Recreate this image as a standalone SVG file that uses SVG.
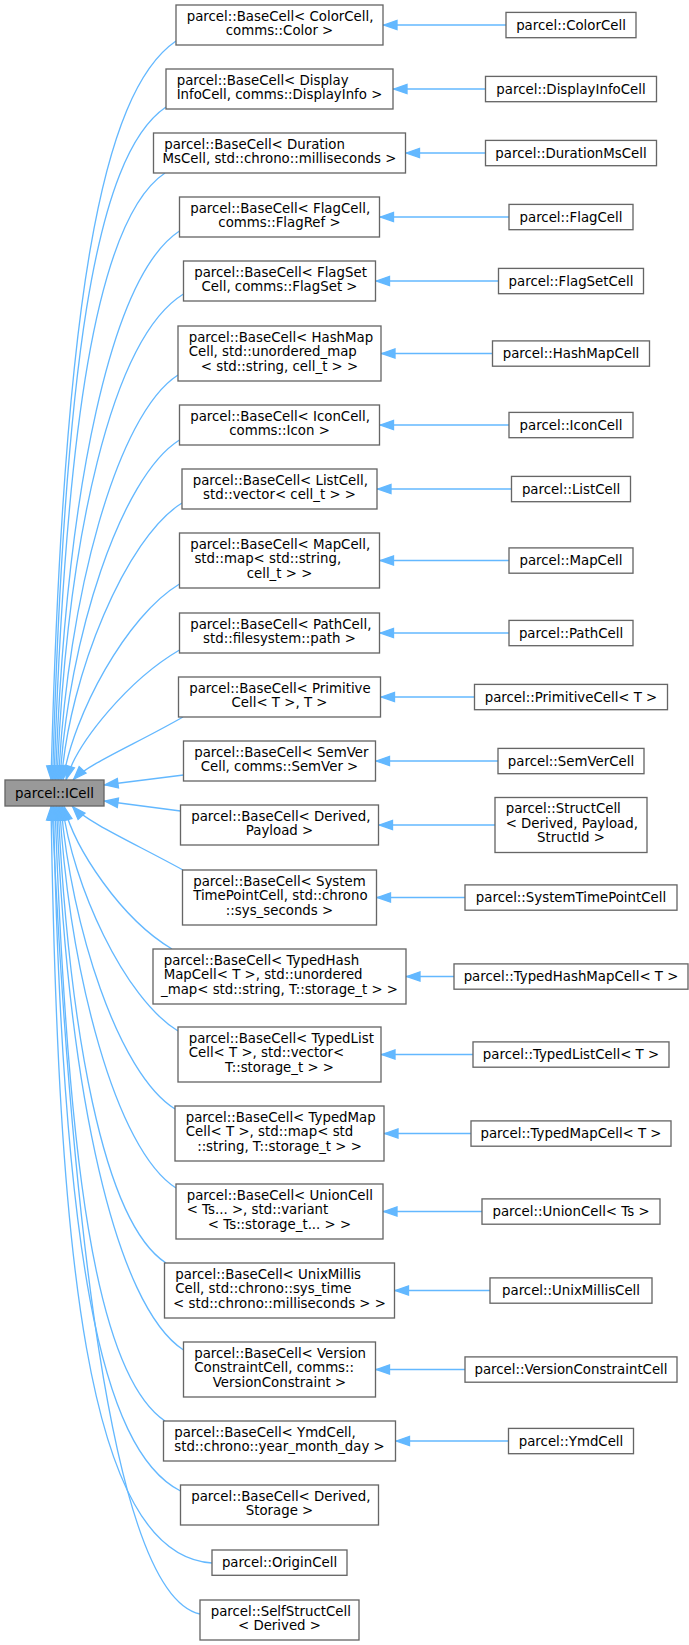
<svg xmlns="http://www.w3.org/2000/svg" width="689" height="1645" viewBox="0 0 689 1645">
<style>
rect.b{fill:#fff;stroke:#666;stroke-width:1.33}
rect.g{fill:#999;stroke:#666;stroke-width:1.33}
text{font-family:"DejaVu Sans","Liberation Sans",sans-serif;font-size:13.33px;fill:#000}
text.c{text-anchor:middle}
path.e{fill:none;stroke:#63b8ff;stroke-width:1.33;marker-start:url(#ah)}
</style>
<defs>
<marker id="ah" markerUnits="userSpaceOnUse" markerWidth="18" markerHeight="14" viewBox="-16 -7 18 14" refX="0" refY="0" orient="auto-start-reverse" overflow="visible">
<path d="M-1,0 L-14,-4.67 L-14,4.67 Z" fill="#63b8ff" stroke="#63b8ff" stroke-width="1.33"/>
</marker>
</defs>
<rect width="689" height="1645" fill="#fff"/>
<g id="connectors">
<path class="e" d="M51,780 C63.4,300 101.4,91.9 176,41"/>
<path class="e" d="M52.5,780 C64.2,369.2 94.1,155.6 166,107"/>
<path class="e" d="M54,780 C65.1,433 95.7,219.2 165,173"/>
<path class="e" d="M55.5,780 C66,484.9 112,275.2 179.5,231"/>
<path class="e" d="M57,780 C66.9,536.8 112,338 183.5,294"/>
<path class="e" d="M58.5,780 C67.6,596.6 116.8,414.2 178,375"/>
<path class="e" d="M60,780 C68.4,639 120.4,476.9 179.5,440"/>
<path class="e" d="M61.5,780 C69.3,675.4 125.9,537.7 182,503"/>
<path class="e" d="M63,780 C73,715.3 126.2,615.9 179.5,584"/>
<path class="e" d="M66,780 C76.9,742.2 128.8,679.6 179.5,650"/>
<path class="e" d="M73,780 C88,764 135.5,744.2 183,717"/>
<path class="e" d="M104,785 L183.5,775"/>
<path class="e" d="M104,801 L180.5,811"/>
<path class="e" d="M72,806 C87,822.2 135.4,843.8 183,870"/>
<path class="e" d="M64,806 C74.6,848.7 121.3,919 172,949"/>
<path class="e" d="M62.5,806 C72.4,884.1 124,998.1 178,1031"/>
<path class="e" d="M61,806 C71,925.1 117.9,1073.4 175,1109"/>
<path class="e" d="M59.5,806 C69.9,974 115.7,1149.6 176,1188"/>
<path class="e" d="M58,806 C68.9,1027 102.7,1222 166,1263"/>
<path class="e" d="M56.5,806 C68,1097 116.2,1306 183.5,1350"/>
<path class="e" d="M55,806 C67.1,1160.4 95.4,1374.5 165,1421"/>
<path class="e" d="M53.5,806 C62,1250 100,1450 180.5,1491"/>
<path class="e" d="M51,806 C58,1250 85,1555 212,1563"/>
<path class="e" d="M52,806 C70,1200 110,1595 200,1614"/>
<path class="e" d="M383,25 L506,25"/>
<path class="e" d="M393,89 L485.5,89"/>
<path class="e" d="M405.5,153 L485.5,153"/>
<path class="e" d="M379.5,217 L509,217"/>
<path class="e" d="M375.5,281 L498.5,281"/>
<path class="e" d="M381,353.5 L492.5,353.5"/>
<path class="e" d="M379.5,425 L509,425"/>
<path class="e" d="M377,489 L511.5,489"/>
<path class="e" d="M379.5,560.5 L509,560.5"/>
<path class="e" d="M379.5,633 L509,633"/>
<path class="e" d="M380.5,697 L474.5,697"/>
<path class="e" d="M375.5,761 L498,761"/>
<path class="e" d="M378.5,825 L495,825"/>
<path class="e" d="M376.5,897.5 L465,897.5"/>
<path class="e" d="M406,976.5 L454,976.5"/>
<path class="e" d="M381,1054.5 L473,1054.5"/>
<path class="e" d="M384,1133.5 L471,1133.5"/>
<path class="e" d="M383,1211.5 L482,1211.5"/>
<path class="e" d="M394.5,1290.5 L490,1290.5"/>
<path class="e" d="M375.5,1369.5 L465,1369.5"/>
<path class="e" d="M395.5,1441 L508.5,1441"/>
</g>
<g id="icell"><rect class="g" x="5" y="780" width="99" height="26"/><text class="c" x="54.5" y="797.6">parcel::ICell</text></g>
<g id="base_color"><rect class="b" x="176" y="5" width="207" height="40"/><text x="186.7" y="20.5">parcel::BaseCell&lt; ColorCell,</text><text class="c" x="279.5" y="35.2">comms::Color &gt;</text></g>
<g id="base_displayinfo"><rect class="b" x="166" y="69" width="227" height="40"/><text x="176.7" y="84.5">parcel::BaseCell&lt; Display</text><text class="c" x="279.5" y="99.2">InfoCell, comms::DisplayInfo &gt;</text></g>
<g id="base_durationms"><rect class="b" x="153.5" y="133" width="252" height="40"/><text x="164.2" y="148.5">parcel::BaseCell&lt; Duration</text><text class="c" x="279.5" y="163.2">MsCell, std::chrono::milliseconds &gt;</text></g>
<g id="base_flag"><rect class="b" x="179.5" y="197" width="200" height="40"/><text x="190.2" y="212.5">parcel::BaseCell&lt; FlagCell,</text><text class="c" x="279.5" y="227.2">comms::FlagRef &gt;</text></g>
<g id="base_flagset"><rect class="b" x="183.5" y="261" width="192" height="40"/><text x="194.2" y="276.5">parcel::BaseCell&lt; FlagSet</text><text class="c" x="279.5" y="291.2">Cell, comms::FlagSet &gt;</text></g>
<g id="base_hashmap"><rect class="b" x="178" y="326" width="203" height="55"/><text x="188.7" y="341.5">parcel::BaseCell&lt; HashMap</text><text x="188.7" y="356.2">Cell, std::unordered_map</text><text class="c" x="279.5" y="370.9">&lt; std::string, cell_t &gt; &gt;</text></g>
<g id="base_icon"><rect class="b" x="179.5" y="405" width="200" height="40"/><text x="190.2" y="420.5">parcel::BaseCell&lt; IconCell,</text><text class="c" x="279.5" y="435.2">comms::Icon &gt;</text></g>
<g id="base_list"><rect class="b" x="182" y="469" width="195" height="40"/><text x="192.7" y="484.5">parcel::BaseCell&lt; ListCell,</text><text class="c" x="279.5" y="499.2">std::vector&lt; cell_t &gt; &gt;</text></g>
<g id="base_map"><rect class="b" x="179.5" y="533" width="200" height="55"/><text x="190.2" y="548.5">parcel::BaseCell&lt; MapCell,</text><text x="194.4" y="563.2">std::map&lt; std::string,</text><text class="c" x="279.5" y="577.9">cell_t &gt; &gt;</text></g>
<g id="base_path"><rect class="b" x="179.5" y="613" width="200" height="40"/><text x="190.2" y="628.5">parcel::BaseCell&lt; PathCell,</text><text class="c" x="279.5" y="643.2">std::filesystem::path &gt;</text></g>
<g id="base_primitive"><rect class="b" x="178.5" y="677" width="202" height="40"/><text x="189.2" y="692.5">parcel::BaseCell&lt; Primitive</text><text class="c" x="279.5" y="707.2">Cell&lt; T &gt;, T &gt;</text></g>
<g id="base_semver"><rect class="b" x="183.5" y="741" width="192" height="40"/><text x="194.2" y="756.5">parcel::BaseCell&lt; SemVer</text><text class="c" x="279.5" y="771.2">Cell, comms::SemVer &gt;</text></g>
<g id="base_derived_payload"><rect class="b" x="180.5" y="805" width="198" height="40"/><text x="191.2" y="820.5">parcel::BaseCell&lt; Derived,</text><text class="c" x="279.5" y="835.2">Payload &gt;</text></g>
<g id="base_systemtimepoint"><rect class="b" x="182.5" y="870" width="194" height="55"/><text x="193.2" y="885.5">parcel::BaseCell&lt; System</text><text x="193.2" y="900.2">TimePointCell, std::chrono</text><text class="c" x="279.5" y="914.9">::sys_seconds &gt;</text></g>
<g id="base_typedhashmap"><rect class="b" x="153" y="949" width="253" height="55"/><text x="163.7" y="964.5">parcel::BaseCell&lt; TypedHash</text><text x="163.7" y="979.2">MapCell&lt; T &gt;, std::unordered</text><text class="c" x="279.5" y="993.9">_map&lt; std::string, T::storage_t &gt; &gt;</text></g>
<g id="base_typedlist"><rect class="b" x="178" y="1027" width="203" height="55"/><text x="188.7" y="1042.5">parcel::BaseCell&lt; TypedList</text><text x="188.7" y="1057.2">Cell&lt; T &gt;, std::vector&lt;</text><text class="c" x="279.5" y="1071.9">T::storage_t &gt; &gt;</text></g>
<g id="base_typedmap"><rect class="b" x="175" y="1106" width="209" height="55"/><text x="185.7" y="1121.5">parcel::BaseCell&lt; TypedMap</text><text x="185.7" y="1136.2">Cell&lt; T &gt;, std::map&lt; std</text><text class="c" x="279.5" y="1150.9">::string, T::storage_t &gt; &gt;</text></g>
<g id="base_union"><rect class="b" x="176" y="1184" width="207" height="55"/><text x="186.7" y="1199.5">parcel::BaseCell&lt; UnionCell</text><text x="186.7" y="1214.2">&lt; Ts... &gt;, std::variant</text><text class="c" x="279.5" y="1228.9">&lt; Ts::storage_t... &gt; &gt;</text></g>
<g id="base_unixmillis"><rect class="b" x="164.5" y="1263" width="230" height="55"/><text x="175.2" y="1278.5">parcel::BaseCell&lt; UnixMillis</text><text x="175.2" y="1293.2">Cell, std::chrono::sys_time</text><text class="c" x="279.5" y="1307.9">&lt; std::chrono::milliseconds &gt; &gt;</text></g>
<g id="base_versionconstraint"><rect class="b" x="183.5" y="1342" width="192" height="55"/><text x="194.2" y="1357.5">parcel::BaseCell&lt; Version</text><text x="194.2" y="1372.2">ConstraintCell, comms::</text><text class="c" x="279.5" y="1386.9">VersionConstraint &gt;</text></g>
<g id="base_ymd"><rect class="b" x="163.5" y="1421" width="232" height="40"/><text x="174.2" y="1436.5">parcel::BaseCell&lt; YmdCell,</text><text class="c" x="279.5" y="1451.2">std::chrono::year_month_day &gt;</text></g>
<g id="base_derived_storage"><rect class="b" x="180.5" y="1485" width="198" height="40"/><text x="191.2" y="1500.5">parcel::BaseCell&lt; Derived,</text><text class="c" x="279.5" y="1515.2">Storage &gt;</text></g>
<g id="origincell"><rect class="b" x="212" y="1550" width="135" height="25.3"/><text class="c" x="279.5" y="1567.2">parcel::OriginCell</text></g>
<g id="selfstructcell"><rect class="b" x="200" y="1600" width="159" height="40"/><text x="210.7" y="1615.5">parcel::SelfStructCell</text><text class="c" x="279.5" y="1630.2">&lt; Derived &gt;</text></g>
<g id="colorcell"><rect class="b" x="506" y="12.4" width="130" height="25.3"/><text class="c" x="571" y="29.6">parcel::ColorCell</text></g>
<g id="displayinfocell"><rect class="b" x="485.5" y="76.4" width="171" height="25.3"/><text class="c" x="571" y="93.6">parcel::DisplayInfoCell</text></g>
<g id="durationmscell"><rect class="b" x="485.5" y="140.4" width="171" height="25.3"/><text class="c" x="571" y="157.6">parcel::DurationMsCell</text></g>
<g id="flagcell"><rect class="b" x="509" y="204.4" width="124" height="25.3"/><text class="c" x="571" y="221.6">parcel::FlagCell</text></g>
<g id="flagsetcell"><rect class="b" x="498.5" y="268.4" width="145" height="25.3"/><text class="c" x="571" y="285.6">parcel::FlagSetCell</text></g>
<g id="hashmapcell"><rect class="b" x="492.5" y="340.9" width="157" height="25.3"/><text class="c" x="571" y="358.1">parcel::HashMapCell</text></g>
<g id="iconcell"><rect class="b" x="509" y="412.4" width="124" height="25.3"/><text class="c" x="571" y="429.6">parcel::IconCell</text></g>
<g id="listcell"><rect class="b" x="511.5" y="476.4" width="119" height="25.3"/><text class="c" x="571" y="493.6">parcel::ListCell</text></g>
<g id="mapcell"><rect class="b" x="509" y="547.9" width="124" height="25.3"/><text class="c" x="571" y="565.1">parcel::MapCell</text></g>
<g id="pathcell"><rect class="b" x="509" y="620.4" width="124" height="25.3"/><text class="c" x="571" y="637.6">parcel::PathCell</text></g>
<g id="primitivecell"><rect class="b" x="474.5" y="684.4" width="193" height="25.3"/><text class="c" x="571" y="701.6">parcel::PrimitiveCell&lt; T &gt;</text></g>
<g id="semvercell"><rect class="b" x="498" y="748.4" width="146" height="25.3"/><text class="c" x="571" y="765.6">parcel::SemVerCell</text></g>
<g id="structcell"><rect class="b" x="495" y="797.5" width="152" height="55"/><text x="505.7" y="813">parcel::StructCell</text><text x="505.7" y="827.7">&lt; Derived, Payload,</text><text class="c" x="571" y="842.4">StructId &gt;</text></g>
<g id="systemtimepointcell"><rect class="b" x="465" y="884.9" width="212" height="25.3"/><text class="c" x="571" y="902.1">parcel::SystemTimePointCell</text></g>
<g id="typedhashmapcell"><rect class="b" x="454" y="963.9" width="234" height="25.3"/><text class="c" x="571" y="981.1">parcel::TypedHashMapCell&lt; T &gt;</text></g>
<g id="typedlistcell"><rect class="b" x="473" y="1041.9" width="196" height="25.3"/><text class="c" x="571" y="1059.1">parcel::TypedListCell&lt; T &gt;</text></g>
<g id="typedmapcell"><rect class="b" x="471" y="1120.9" width="200" height="25.3"/><text class="c" x="571" y="1138.1">parcel::TypedMapCell&lt; T &gt;</text></g>
<g id="unioncell"><rect class="b" x="482" y="1198.9" width="178" height="25.3"/><text class="c" x="571" y="1216.1">parcel::UnionCell&lt; Ts &gt;</text></g>
<g id="unixmilliscell"><rect class="b" x="490" y="1277.9" width="162" height="25.3"/><text class="c" x="571" y="1295.1">parcel::UnixMillisCell</text></g>
<g id="versionconstraintcell"><rect class="b" x="465" y="1356.9" width="212" height="25.3"/><text class="c" x="571" y="1374.1">parcel::VersionConstraintCell</text></g>
<g id="ymdcell"><rect class="b" x="508.5" y="1428.4" width="125" height="25.3"/><text class="c" x="571" y="1445.6">parcel::YmdCell</text></g>
</svg>
